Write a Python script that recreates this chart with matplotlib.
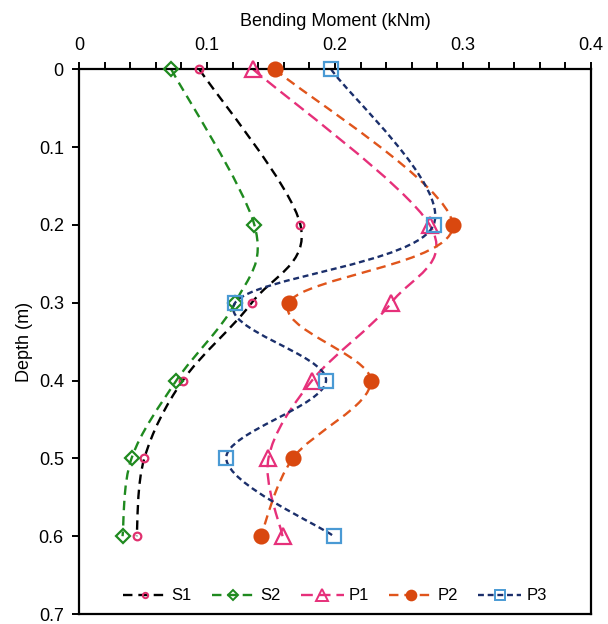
import matplotlib
matplotlib.use("Agg")
from matplotlib import pyplot as plt
from matplotlib.path import Path
from matplotlib.patches import PathPatch
from matplotlib.lines import Line2D
from matplotlib.ticker import MultipleLocator

plt.rcParams['font.family'] = ['Liberation Sans', 'DejaVu Sans']

depth = [0, 0.2, 0.3, 0.4, 0.5, 0.6]

s1 = [0.094, 0.173, 0.135, 0.081, 0.051, 0.045]
s2 = [0.072, 0.137, 0.122, 0.076, 0.041, 0.034]
p1 = [0.136, 0.274, 0.244, 0.182, 0.148, 0.159]
p2 = [0.153, 0.292, 0.164, 0.228, 0.167, 0.142]
p3 = [0.197, 0.277, 0.122, 0.193, 0.115, 0.199]

names = ["S1", "S2", "P1", "P2", "P3"]
series = [s1, s2, p1, p2, p3]
line_colors = ["black", "#1f8a1f", "#e6307a", "#e0551c", "#1b2f6b"]
mark_colors = ["#e0306e", "#1f8a1f", "#e6307a", "#d9480f", "#4a9ad4"]
markers = ["o", "D", "^", "o", "s"]
msizes = [5.5, 7, 12, 10, 10]
filled = [False, False, False, True, False]
dashes = [(4, 2.5), (4, 2.5), (5, 2.5), (4, 2.5), (2.5, 1.6)]


def smooth_path(ax, xs, ys):
    # excel style smoothed line: catmull-rom bezier segments in screen space
    tr = ax.transData
    pts = tr.transform(list(zip(xs, ys)))
    n = len(pts)
    verts = [pts[0]]
    codes = [Path.MOVETO]
    for i in range(n - 1):
        p0 = pts[i - 1] if i > 0 else pts[i]
        p1_ = pts[i]
        p2_ = pts[i + 1]
        p3_ = pts[i + 2] if i + 2 < n else pts[i + 1]
        c1 = p1_ + (p2_ - p0) / 6.0
        c2 = p2_ - (p3_ - p1_) / 6.0
        verts += [c1, c2, p2_]
        codes += [Path.CURVE4] * 3
    verts = tr.inverted().transform(verts)
    return Path(verts, codes)


fig = plt.figure(figsize=(6.08, 6.24), dpi=100)
ax = fig.add_axes([0.130, 0.016, 0.842, 0.873])
ax.set_xlim(0, 0.4)
ax.set_ylim(0.7, 0)

handles = []
for name, vals, lc, mc, mk, ms, fl, ds in zip(names, series, line_colors, mark_colors,
                                               markers, msizes, filled, dashes):
    path = smooth_path(ax, vals, depth)
    patch = PathPatch(path, facecolor="none", edgecolor=lc, lw=1.7,
                      linestyle=(0, ds), zorder=2)
    ax.add_patch(patch)
    ax.plot(vals, depth, linestyle="none", marker=mk, ms=ms, mec=mc, mfc=mc if fl else "none",
            mew=1.6, zorder=3, clip_on=False)
    handles.append(Line2D([], [], color=lc, lw=1.7, linestyle=(0, ds), marker=mk, ms=ms * 0.7,
                          mec=mc, mfc=mc if fl else "none", mew=1.4, label=name))

ax.xaxis.tick_top()
ax.xaxis.set_label_position("top")
ax.xaxis.set_minor_locator(MultipleLocator(0.02))
ax.set_xticks([0, 0.1, 0.2, 0.3, 0.4])
ax.set_xticklabels(["0", "0.1", "0.2", "0.3", "0.4"])
ax.set_yticks([0, 0.1, 0.2, 0.3, 0.4, 0.5, 0.6, 0.7])
ax.set_yticklabels(["0", "0.1", "0.2", "0.3", "0.4", "0.5", "0.6", "0.7"])
ax.tick_params(axis="x", which="both", direction="out", length=5, width=1.4, labelsize=13, pad=6)
ax.tick_params(axis="y", which="major", direction="out", length=5, width=1.4, labelsize=13, pad=6)
ax.set_xlabel("Bending Moment (kNm)", fontsize=13, labelpad=8)
ax.set_ylabel("Depth (m)", fontsize=13, labelpad=4)

for sp in ax.spines.values():
    sp.set_linewidth(1.6)
    sp.set_color("black")

ax.legend(handles=handles, loc="lower center", bbox_to_anchor=(0.5, -0.008), ncol=5,
          frameon=False, fontsize=12, handlelength=2.6, columnspacing=1.2, handletextpad=0.3)

fig.savefig("out.png", dpi=100)
